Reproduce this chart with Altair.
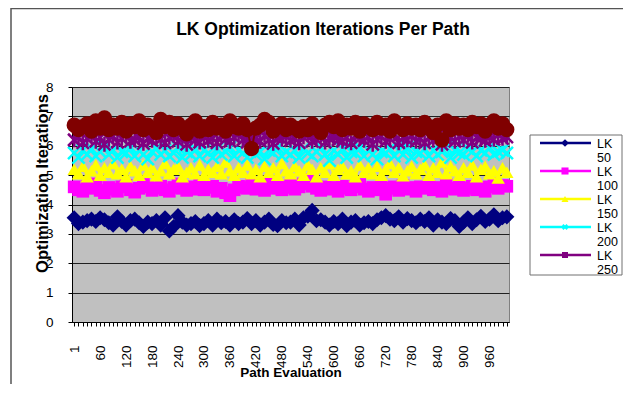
import altair as alt
import pandas as pd

FONT = "Liberation Sans"
TITLE = "LK Optimization Iterations Per Path"
X_TITLE = "Path Evaluation"
Y_TITLE = "Optimization Iterations"

PATH_EVAL = [1, 10, 20, 30, 40, 50, 60, 70, 80, 90,
             100, 110, 120, 130, 140, 150, 160, 170, 180, 190,
             200, 210, 220, 230, 240, 250, 260, 270, 280, 290,
             300, 310, 320, 330, 340, 350, 360, 370, 380, 390,
             400, 410, 420, 430, 440, 450, 460, 470, 480, 490,
             500, 510, 520, 530, 540, 550, 560, 570, 580, 590,
             600, 610, 620, 630, 640, 650, 660, 670, 680, 690,
             700, 710, 720, 730, 740, 750, 760, 770, 780, 790,
             800, 810, 820, 830, 840, 850, 860, 870, 880, 890,
             900, 910, 920, 930, 940, 950, 960, 970, 980, 990,
             1000]
X_LABELS = [1, 60, 120, 180, 240, 300, 360, 420, 480, 540, 600, 660, 720, 780, 840, 900, 960]
Y_TICKS = [0, 1, 2, 3, 4, 5, 6, 7, 8]

SERIES = ["LK 50", "LK 100", "LK 150", "LK 200", "LK 250", "LK 300"]
COLORS = ["#000080", "#FF00FF", "#FFFF00", "#00FFFF", "#800080", "#800000"]
LEGEND_ENTRIES = SERIES[:5]  # the legend box only shows five entries

LK50 = [3.55, 3.35, 3.40, 3.45, 3.50, 3.42, 3.55, 3.48, 3.38, 3.30,
        3.58, 3.42, 3.30, 3.45, 3.50, 3.38, 3.25, 3.40, 3.35, 3.45,
        3.30, 3.55, 3.10, 3.25, 3.62, 3.40, 3.30, 3.35, 3.42, 3.28,
        3.35, 3.45, 3.30, 3.50, 3.38, 3.42, 3.30, 3.48, 3.35, 3.40,
        3.52, 3.35, 3.45, 3.30, 3.40, 3.50, 3.32, 3.28, 3.45, 3.38,
        3.40, 3.50, 3.30, 3.55, 3.60, 3.80, 3.45, 3.48, 3.40, 3.30,
        3.42, 3.35, 3.50, 3.28, 3.40, 3.45, 3.30, 3.38, 3.42, 3.35,
        3.48, 3.55, 3.62, 3.50, 3.45, 3.58, 3.40, 3.52, 3.45, 3.38,
        3.50, 3.42, 3.55, 3.30, 3.48, 3.40, 3.35, 3.52, 3.45, 3.25,
        3.40, 3.55, 3.35, 3.48, 3.60, 3.42, 3.50, 3.65, 3.45, 3.55,
        3.58]
LK100 = [4.60, 4.50, 4.45, 4.62, 4.55, 4.70, 4.48, 4.40, 4.58, 4.52,
         4.45, 4.60, 4.65, 4.50, 4.42, 4.55, 4.68, 4.60, 4.48, 4.55,
         4.62, 4.50, 4.45, 4.58, 4.70, 4.55, 4.48, 4.60, 4.52, 4.65,
         4.50, 4.58, 4.62, 4.45, 4.55, 4.40, 4.30, 4.50, 4.62, 4.58,
         4.55, 4.68, 4.52, 4.60, 4.48, 4.72, 4.55, 4.62, 4.50, 4.58,
         4.65, 4.52, 4.60, 4.70, 4.85, 4.62, 4.55, 4.48, 4.60, 4.52,
         4.58, 4.45, 4.62, 4.55, 4.50, 4.60, 4.68, 4.52, 4.45, 4.58,
         4.50, 4.62, 4.35, 4.55, 4.60, 4.48, 4.65, 4.52, 4.58, 4.45,
         4.60, 4.55, 4.62, 4.50, 4.58, 4.45, 4.68, 4.55, 4.52, 4.60,
         4.48, 4.55, 4.62, 4.50, 4.58, 4.45, 4.60, 4.72, 4.55, 4.65,
         4.62]
LK150 = [5.20, 5.05, 5.30, 4.95, 5.15, 5.35, 5.00, 5.25, 5.10, 5.40,
         5.05, 5.20, 4.95, 5.30, 5.15, 5.00, 5.35, 5.10, 5.25, 4.98,
         5.15, 5.40, 5.05, 5.20, 5.30, 4.95, 5.10, 5.25, 5.05, 5.35,
         5.00, 5.20, 5.10, 5.30, 5.05, 5.45, 5.15, 5.00, 5.25, 5.10,
         5.35, 5.05, 5.20, 4.95, 5.30, 5.10, 5.25, 5.00, 5.40, 5.15,
         5.05, 5.30, 5.15, 5.00, 5.35, 5.20, 4.95, 5.25, 5.10, 5.40,
         5.00, 5.20, 5.30, 5.05, 5.15, 4.95, 5.35, 5.10, 5.25, 5.05,
         5.30, 5.00, 5.20, 5.40, 5.10, 5.25, 4.98, 5.15, 5.30, 5.05,
         5.20, 5.35, 5.00, 5.25, 5.10, 5.45, 5.05, 5.30, 5.15, 5.00,
         5.25, 5.10, 5.35, 4.95, 5.20, 5.30, 5.05, 5.15, 4.90, 5.25,
         5.10]
LK200 = [5.75, 5.60, 5.85, 5.70, 5.90, 5.65, 5.80, 5.95, 5.70, 5.85,
         5.60, 5.80, 5.75, 5.95, 5.65, 5.85, 5.70, 5.55, 5.80, 5.90,
         5.70, 5.85, 5.65, 5.75, 5.95, 5.60, 5.80, 5.70, 5.90, 5.65,
         5.85, 5.75, 5.60, 5.90, 5.70, 5.80, 5.95, 5.65, 5.85, 5.75,
         5.60, 5.90, 5.70, 5.80, 5.55, 5.85, 5.75, 5.95, 5.65, 5.80,
         5.70, 5.85, 5.60, 5.90, 5.75, 5.65, 5.80, 5.95, 5.70, 5.50,
         5.85, 5.70, 5.90, 5.60, 5.80, 5.75, 5.95, 5.65, 5.85, 5.70,
         5.55, 5.80, 5.75, 5.90, 5.65, 5.85, 5.70, 5.95, 5.60, 5.80,
         5.75, 5.90, 5.65, 5.85, 5.70, 5.80, 5.95, 5.60, 5.85, 5.75,
         5.70, 5.90, 5.80, 5.65, 5.85, 5.75, 5.95, 5.70, 5.80, 5.85,
         5.75]
LK250 = [6.20, 6.30, 6.10, 6.25, 6.35, 6.15, 6.28, 6.05, 6.22, 6.32,
         6.12, 6.25, 6.38, 6.15, 6.20, 6.30, 6.08, 6.25, 6.18, 6.35,
         6.22, 6.10, 6.28, 6.35, 6.15, 6.25, 6.05, 6.30, 6.20, 6.12,
         6.30, 6.18, 6.25, 6.10, 6.35, 6.22, 6.15, 6.28, 6.40, 6.20,
         6.12, 6.30, 6.25, 6.15, 6.35, 6.20, 6.08, 6.28, 6.22, 6.32,
         6.18, 6.25, 6.10, 6.30, 6.38, 6.15, 6.22, 6.35, 6.12, 6.25,
         6.30, 6.20, 6.15, 6.28, 6.10, 6.35, 6.25, 6.18, 6.30, 6.05,
         6.22, 6.32, 6.15, 6.25, 6.40, 6.10, 6.28, 6.20, 6.35, 6.15,
         6.25, 6.10, 6.30, 6.18, 6.35, 6.05, 6.22, 6.28, 6.15, 6.32,
         6.20, 6.35, 6.12, 6.28, 6.25, 6.18, 6.30, 6.22, 6.38, 6.25,
         6.30]
LK300 = [6.70, 6.55, 6.65, 6.75, 6.50, 6.85, 6.60, 6.95, 6.55, 6.70,
         6.60, 6.80, 6.50, 6.75, 6.65, 6.85, 6.55, 6.70, 6.60, 6.45,
         6.90, 6.65, 6.80, 6.55, 6.75, 6.60, 6.40, 6.70, 6.85, 6.50,
         6.65, 6.55, 6.80, 6.60, 6.70, 6.50, 6.85, 6.65, 6.60, 6.75,
         6.55, 5.90, 6.60, 6.70, 6.90, 6.80, 6.50, 6.65, 6.75, 6.55,
         6.70, 6.60, 6.50, 6.65, 6.55, 6.75, 6.60, 6.45, 6.70, 6.80,
         6.65, 6.85, 6.55, 6.70, 6.60, 6.80, 6.50, 6.75, 6.65, 6.55,
         6.80, 6.60, 6.70, 6.50, 6.85, 6.65, 6.55, 6.75, 6.60, 6.70,
         6.55, 6.80, 6.65, 6.45, 6.70, 6.20, 6.85, 6.55, 6.75, 6.60,
         6.70, 6.55, 6.80, 6.65, 6.75, 6.50, 6.70, 6.85, 6.60, 6.75,
         6.55]
VALUES = [LK50, LK100, LK150, LK200, LK250, LK300]

X_PATH = "M-1,-1L1,1M-1,1L1,-1"
STAR_PATH = "M-1,-1L1,1M-1,1L1,-1M0,-1.2L0,1.2"
MARKERS = [
    dict(shape="diamond", size=230, filled=True),
    dict(shape="square", size=160, filled=True),
    dict(shape="triangle-up", size=180, filled=True),
    dict(shape=X_PATH, size=150, filled=False, strokeWidth=2.5),
    dict(shape=STAR_PATH, size=150, filled=False, strokeWidth=2.5),
    dict(shape="circle", size=230, filled=True),
]
LEGEND_MARKERS = [
    dict(shape="diamond", size=60, filled=True),
    dict(shape="square", size=50, filled=True),
    dict(shape="triangle-up", size=50, filled=True),
    dict(shape=X_PATH, size=20, filled=False, strokeWidth=2),
    dict(shape="square", size=36, filled=True),
]

rows = []
for name, vals in zip(SERIES, VALUES):
    for p, v in zip(PATH_EVAL, vals):
        rows.append({"series": name, "path": p, "iters": v})
df = pd.DataFrame(rows)

W, H = 437, 235

label_expr = "indexof(%s, datum.value) >= 0 ? datum.label : ''" % str(X_LABELS).replace(" ", "")

x_enc = alt.X(
    "path:O", title=X_TITLE,
    scale=alt.Scale(padding=0.5),
    axis=alt.Axis(
        labelAngle=-90, labelAlign="right", labelBaseline="middle",
        labelPadding=19, tickSize=4, labelExpr=label_expr, labelOverlap=False,
        labelFontSize=13.5, labelFont=FONT, labelColor="black",
        grid=False, domainColor="black", tickColor="black",
        titleX=W / 2, titleY=54, titleBaseline="alphabetic", titleAlign="center",
        titleFontSize=13.5, titleFont=FONT, titleFontWeight="bold", titleColor="black",
    ),
)
y_enc = alt.Y(
    "iters:Q", title=Y_TITLE,
    scale=alt.Scale(domain=[0, 8], nice=False, zero=True),
    axis=alt.Axis(
        values=Y_TICKS, format="d", grid=True, gridColor="#202020", gridWidth=1,
        tickSize=4, tickColor="black", domainColor="black",
        labelPadding=15, labelFontSize=13.5, labelFont=FONT, labelColor="black",
        titleX=-25, titleY=96, titleAngle=270, titleAlign="center",
        titleBaseline="alphabetic", titleFontSize=16.5, titleFont=FONT,
        titleFontWeight="bold", titleColor="black",
    ),
)

base = alt.Chart(df).encode(x=x_enc, y=y_enc)
layers = []
for name, color, mk in zip(SERIES, COLORS, MARKERS):
    sub = base.transform_filter(alt.datum.series == name)
    layers.append(sub.mark_line(color=color, strokeWidth=2))
    layers.append(sub.mark_point(color=color, opacity=1, **mk))
plot = alt.layer(*layers)

one = pd.DataFrame({"k": [0]})
title_df = pd.DataFrame({"t": [TITLE]})
# outer chart frame (its right and bottom edges fall outside the picture)
frame = alt.Chart(one).mark_rect(
    fillOpacity=0, stroke="#555555", strokeWidth=1.5
).encode(x=alt.value(-61), x2=alt.value(580), y=alt.value(-78.5), y2=alt.value(320))
title_mark = alt.Chart(title_df).mark_text(
    font=FONT, fontSize=17.5, fontWeight="bold", color="black",
    align="center", baseline="alphabetic",
).encode(x=alt.value(251), y=alt.value(-52), text="t:N")

# legend drawn in the area to the right of the plot
leg_df = pd.DataFrame({"series": LEGEND_ENTRIES, "idx": list(range(len(LEGEND_ENTRIES)))})
ly = alt.Y("idx:Q", scale=alt.Scale(domain=[0, len(LEGEND_ENTRIES) - 1], range=[56, 168]), axis=None)
box = alt.Chart(one).mark_rect(fill="white", stroke="#707070", strokeWidth=1).encode(
    x=alt.value(458), x2=alt.value(550), y=alt.value(48), y2=alt.value(188))
leg_layers = [box]
for name, color, mk in zip(LEGEND_ENTRIES, COLORS, LEGEND_MARKERS):
    sub = alt.Chart(leg_df).transform_filter(alt.datum.series == name)
    leg_layers.append(sub.mark_rule(color=color, strokeWidth=2.5).encode(
        x=alt.value(468), x2=alt.value(519), y=ly))
    leg_layers.append(sub.mark_point(color=color, opacity=1, **mk).encode(x=alt.value(493), y=ly))
leg_layers.append(alt.Chart(leg_df).mark_text(
    align="left", baseline="alphabetic", dy=4.5, fontSize=12.5, font=FONT,
    lineBreak=" ", lineHeight=14.5, color="black",
).encode(x=alt.value(525), y=ly, text="series:N"))
legend = alt.layer(*leg_layers)

deco = alt.layer(frame, title_mark)

chart = alt.layer(plot, legend, deco).resolve_scale(
    y="independent"
).properties(
    width=W, height=H,
    autosize=alt.AutoSizeParams(type="none"),
    padding={"left": 64, "top": 79, "right": 114, "bottom": 62},
    background="white",
    view=alt.ViewBackground(fill="#C0C0C0", stroke="#808080", strokeWidth=1),
)

chart.save("out.html", embed_options={"renderer": "svg", "actions": False})
